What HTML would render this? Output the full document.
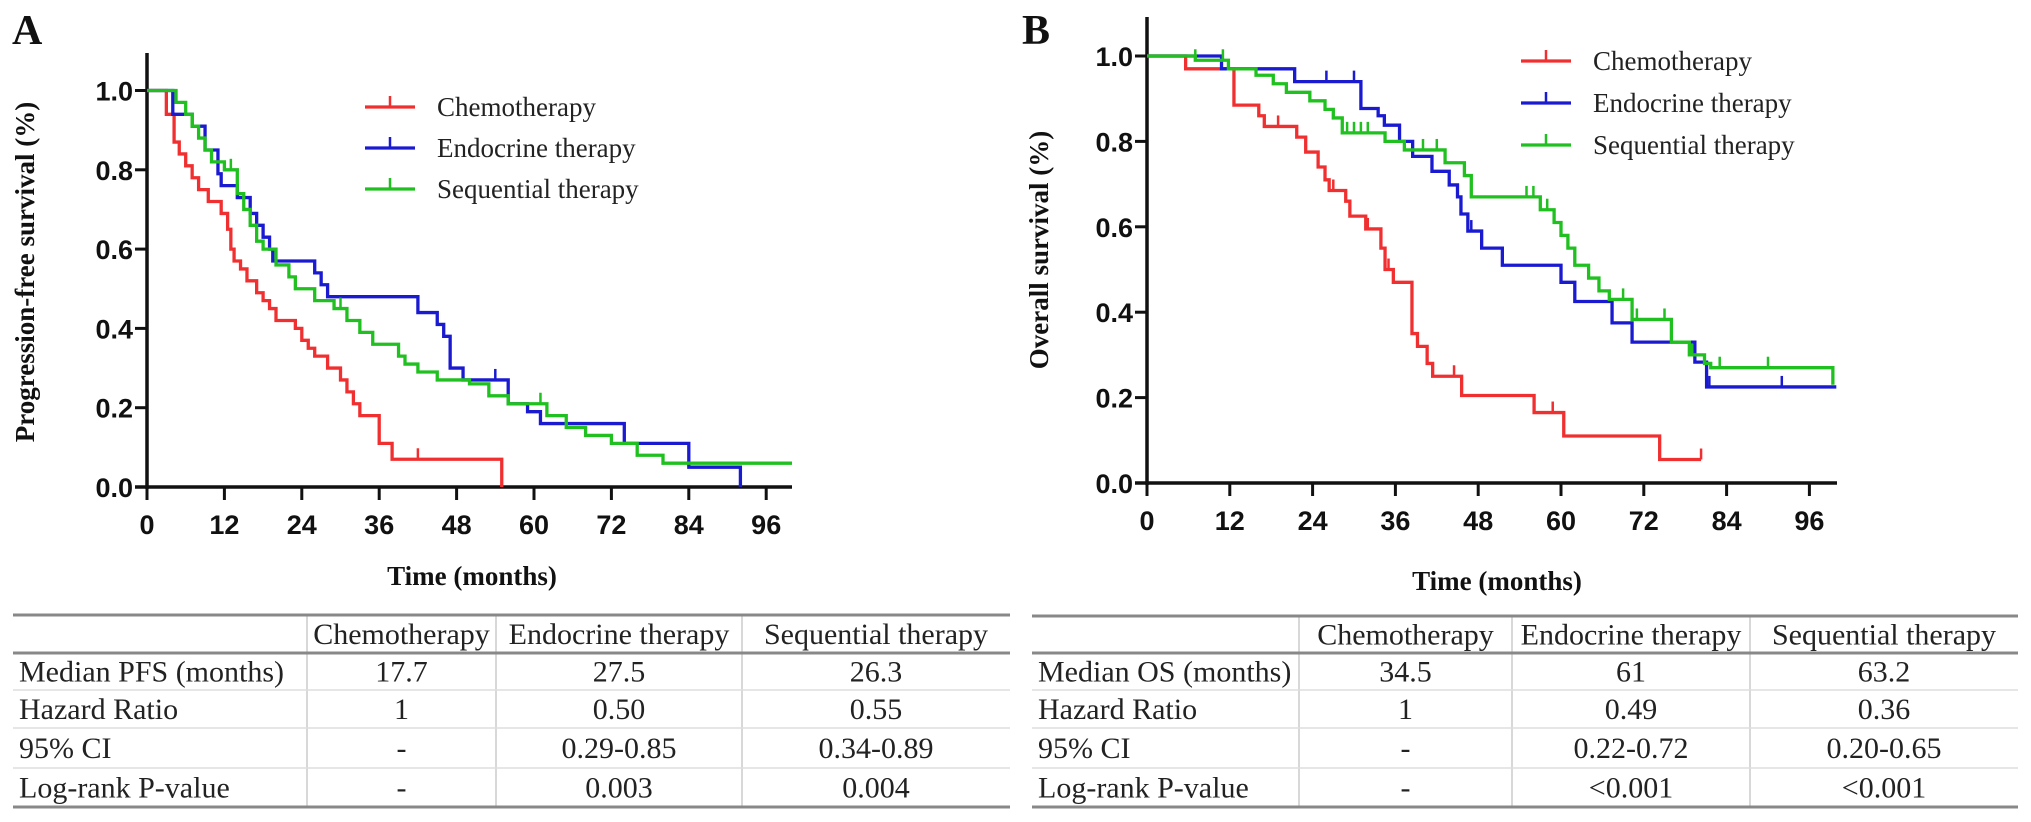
<!DOCTYPE html>
<html><head><meta charset="utf-8">
<style>
html,body{margin:0;padding:0;background:#fff;}
svg{display:block;}
.tick{font-family:"Liberation Sans",sans-serif;font-weight:bold;font-size:27px;fill:#111;}
.ttl{font-family:"Liberation Serif",serif;font-weight:bold;font-size:27px;fill:#111;}
.leg{font-family:"Liberation Serif",serif;font-size:27px;fill:#222;}
.tb{font-family:"Liberation Serif",serif;font-size:30px;fill:#222;}
.letter{font-family:"Liberation Serif",serif;font-weight:bold;font-size:42px;fill:#111;}
</style></head>
<body>
<svg id="fig" width="2031" height="822" viewBox="0 0 2031 822" xmlns="http://www.w3.org/2000/svg">
<text class="letter" x="12" y="44">A</text>
<text class="letter" x="1022" y="44">B</text>
<g id="pa"></g>
<g id="pb"></g>
<g id="ta"></g>
<g id="tb"></g>
</svg>
<script>
// ---------- data ----------
const xTicks = [0,12,24,36,48,60,72,84,96];
const yTicks = [0.0,0.2,0.4,0.6,0.8,1.0];
const seriesNames = ["Chemotherapy","Endocrine therapy","Sequential therapy"];
const seriesColors = ["#f03030","#1a1ad0","#20c020"];

// PFS (panel A) step points [time, survival]
const pfsChemo = [[3,0.94],[4.2,0.87],[5,0.84],[6,0.81],[7,0.78],[8,0.75],[9.5,0.72],[11.5,0.69],[12.5,0.65],[13,0.6],[13.5,0.57],[14.5,0.55],[15.5,0.52],[17,0.49],[18,0.47],[19,0.45],[20,0.42],[23,0.4],[24,0.37],[25,0.35],[26,0.33],[28,0.3],[30,0.27],[31,0.24],[32,0.21],[33,0.18],[36,0.11],[38,0.07],[55,0]];
const pfsChemoEnd = 55;
const pfsChemoCens = [42];
const pfsEndo = [[4,0.94],[7,0.91],[9,0.85],[11,0.79],[11.5,0.76],[14,0.73],[16,0.69],[17,0.66],[18,0.63],[19,0.6],[19.5,0.57],[26,0.54],[27,0.51],[28,0.48],[42,0.44],[45,0.41],[46,0.38],[47,0.3],[49,0.27],[56,0.21],[59,0.19],[61,0.16],[74,0.11],[84,0.05],[92,0]];
const pfsEndoEnd = 92;
const pfsEndoCens = [18,54];
const pfsSeq = [[4.5,0.97],[6,0.94],[7,0.91],[8,0.88],[9,0.85],[10,0.82],[12,0.8],[14,0.74],[15,0.7],[16,0.66],[17,0.62],[18,0.6],[20,0.56],[22,0.53],[23,0.5],[26,0.47],[29,0.45],[31,0.42],[33,0.39],[35,0.36],[39,0.33],[40,0.31],[42,0.29],[45,0.27],[50,0.26],[53,0.23],[56,0.21],[62,0.18],[65,0.15],[68,0.13],[72,0.11],[76,0.08],[80,0.06]];
const pfsSeqEnd = 100;
const pfsSeqCens = [13,20,30,61];

// OS (panel B)
const osChemo = [[5.6,0.97],[12.6,0.885],[16.2,0.86],[17,0.835],[21.7,0.81],[23,0.775],[24.8,0.74],[25.8,0.71],[26.4,0.685],[28.8,0.66],[29.4,0.625],[31.7,0.595],[33.9,0.55],[34.5,0.5],[35.7,0.47],[38.4,0.35],[39.2,0.32],[40.6,0.28],[41.4,0.25],[45.6,0.205],[56.1,0.165],[60.4,0.11],[74.3,0.055]];
const osChemoEnd = 80.3;
const osChemoCens = [19,27,32,35,44.5,58.8,80.3];
const osEndo = [[10.8,0.97],[21.4,0.94],[31,0.877],[33.5,0.86],[34.4,0.838],[36.6,0.8],[38.5,0.765],[41.3,0.73],[43.8,0.698],[45,0.67],[45.5,0.63],[46.5,0.59],[48.5,0.55],[51.5,0.51],[60,0.47],[62,0.425],[67.4,0.375],[70.3,0.33],[79.4,0.283],[81.1,0.225]];
const osEndoEnd = 99.9;
const osEndoCens = [21.4,26,30,47,81.5,92];
const osSeq = [[7,0.99],[11.8,0.97],[15.8,0.955],[18.3,0.935],[20.2,0.915],[23.6,0.895],[25.8,0.875],[27,0.855],[28.3,0.82],[34.5,0.8],[37.3,0.78],[43.2,0.75],[46,0.72],[47,0.67],[57,0.64],[59,0.61],[60,0.58],[61,0.55],[62,0.51],[64,0.48],[65.5,0.45],[67,0.43],[70.3,0.383],[76,0.33],[78.6,0.3],[80.8,0.28],[81.7,0.27],[99.4,0.23]];
const osSeqEnd = 99.4;
const osSeqCens = [7,11,29,30,31,32,40,42,55,56,58,69,71,75,79,83,90];

// tables
const tableCols = ["","Chemotherapy","Endocrine therapy","Sequential  therapy"];
const pfsRows = [["Median PFS (months)","17.7","27.5","26.3"],["Hazard Ratio","1","0.50","0.55"],["95% CI","-","0.29-0.85","0.34-0.89"],["Log-rank P-value","-","0.003","0.004"]];
const osCols = ["","Chemotherapy","Endocrine therapy","Sequential therapy"];
const osRows = [["Median OS (months)","34.5","61","63.2"],["Hazard Ratio","1","0.49","0.36"],["95% CI","-","0.22-0.72","0.20-0.65"],["Log-rank P-value","-","<0.001","<0.001"]];

// ---------- drawing ----------
const NS="http://www.w3.org/2000/svg";
function mk(tag,attrs,parent){const e=document.createElementNS(NS,tag);for(const k in attrs)e.setAttribute(k,attrs[k]);parent.appendChild(e);return e;}

function drawChart(g,cfg){
  const sx=t=>cfg.x0+t*cfg.px;
  const sy=s=>cfg.y0-s*cfg.py;
  let ax=mk("line",{x1:cfg.x0,y1:cfg.top,x2:cfg.x0,y2:cfg.y0+2,stroke:"#111","stroke-width":3.5},g);
  
  
  let axx=mk("line",{x1:cfg.x0-12,y1:cfg.y0,x2:sx(100),y2:cfg.y0,stroke:"#111","stroke-width":3.5},g);
  
  
  yTicks.forEach(v=>{
    mk("line",{x1:cfg.x0-12,y1:sy(v),x2:cfg.x0,y2:sy(v),stroke:"#111","stroke-width":3},g);
    const t=mk("text",{class:"tick",x:cfg.x0-14,y:sy(v)+10,"text-anchor":"end"},g);
    t.textContent=v.toFixed(1);
    
    
  });
  xTicks.forEach(v=>{
    mk("line",{x1:sx(v),y1:cfg.y0,x2:sx(v),y2:cfg.y0+13,stroke:"#111","stroke-width":3},g);
    const t=mk("text",{class:"tick",x:sx(v),y:cfg.y0+47,"text-anchor":"middle"},g);
    t.textContent=v;
    
    
  });
  const xt=mk("text",{class:"ttl",x:cfg.xtX,y:cfg.xtY,"text-anchor":"middle"},g);
  xt.textContent="Time (months)";
  
  
  const yt=mk("text",{class:"ttl",x:0,y:0,"text-anchor":"middle",transform:`translate(${cfg.ytX},${cfg.ytY}) rotate(-90)`},g);
  yt.textContent=cfg.ytitle;
  
  
  cfg.series.forEach((s,i)=>{
    let d=`M${sx(0)},${sy(1)}`;
    s.pts.forEach(p=>{d+=` H${sx(p[0])} V${sy(p[1])}`;});
    d+=` H${sx(s.end)}`;
    const path=mk("path",{d:d,fill:"none",stroke:seriesColors[i],"stroke-width":3.3},g);
    
    
    s.cens.forEach(c=>{
      let v=1;s.pts.forEach(p=>{if(p[0]<=c)v=p[1];});
      const cm=mk("line",{x1:sx(c),y1:sy(v),x2:sx(c),y2:sy(v)-11,stroke:seriesColors[i],"stroke-width":2.5},g);
      
      
    });
  });
  seriesNames.forEach((n,i)=>{
    const y=cfg.legY+i*cfg.legDy;
    mk("line",{x1:cfg.legX,y1:y,x2:cfg.legX+50,y2:y,stroke:seriesColors[i],"stroke-width":3.3},g);
    mk("line",{x1:cfg.legX+25,y1:y,x2:cfg.legX+25,y2:y-11,stroke:seriesColors[i],"stroke-width":2.5},g);
    const t=mk("text",{class:"leg",x:cfg.legX+72,y:y+9},g);
    t.textContent=n;
    
    
  });
}

drawChart(document.getElementById("pa"),{x0:147,y0:487,px:6.45,py:396.5,top:53,xtX:472,xtY:585,ytX:34,ytY:272,ytitle:"Progression-free survival (%)",legX:365,legY:107,legDy:41,
  series:[{pts:pfsChemo,end:pfsChemoEnd,cens:pfsChemoCens},{pts:pfsEndo,end:pfsEndoEnd,cens:pfsEndoCens},{pts:pfsSeq,end:pfsSeqEnd,cens:pfsSeqCens}]});
drawChart(document.getElementById("pb"),{x0:1147,y0:483,px:6.9,py:427,top:17,xtX:1497,xtY:590,ytX:1048,ytY:250,ytitle:"Overall survival (%)",legX:1521,legY:61,legDy:42,
  series:[{pts:osChemo,end:osChemoEnd,cens:osChemoCens},{pts:osEndo,end:osEndoEnd,cens:osEndoCens},{pts:osSeq,end:osSeqEnd,cens:osSeqCens}]});

function drawTable(g,cols,rows,xs,ys){
  const L=xs[0],R=xs[xs.length-1];
  for(let i=1;i<xs.length-1;i++) mk("line",{x1:xs[i],y1:ys[0],x2:xs[i],y2:ys[ys.length-1],stroke:"#ccc","stroke-width":1.5},g);
  ys.forEach((y,i)=>{
    const strong=(i===0||i===1||i===ys.length-1);
    mk("line",{x1:L,y1:y,x2:R,y2:y,stroke:strong?"#888":"#ddd","stroke-width":strong?3:1.5},g);
  });
  const all=[cols].concat(rows);
  all.forEach((r,ri)=>{
    r.forEach((c,ci)=>{
      if(!c)return;
      const cx=ci===0?L+6:(xs[ci]+xs[ci+1])/2;
      const t=mk("text",{class:"tb",x:cx,y:(ys[ri]+ys[ri+1])/2+10,"text-anchor":ci===0?"start":"middle"},g);
      t.textContent=c;
      
      
    });
  });
}
drawTable(document.getElementById("ta"),tableCols,pfsRows,[13,307,496,742,1010],[615,653,690,728,768,807]);
drawTable(document.getElementById("tb"),osCols,osRows,[1032,1299,1512,1750,2018],[616,653,690,728,768,807]);
</script>
</body></html>
